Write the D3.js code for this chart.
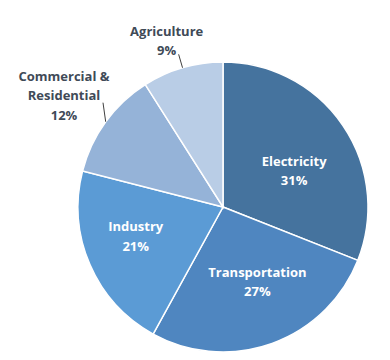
<!DOCTYPE html>
<html><head><meta charset="utf-8">
<script src="https://cdn.jsdelivr.net/npm/d3@7"></script>
<style>body{margin:0;background:#fff}</style>
</head><body>
<svg id="c" width="390" height="360"></svg>
<script>
const categories = ["Electricity", "Transportation", "Industry", "Commercial & Residential", "Agriculture"];
const values = [31, 27, 21, 12, 9];
const labelLines = [["Electricity"], ["Transportation"], ["Industry"], ["Commercial &", "Residential"], ["Agriculture"]];
const colors = ["#45739e", "#4f86c0", "#5b9bd5", "#95b3d8", "#b9cde6"];

// layout (not data)
const cx = 223, cy = 207, R = 145;
const inside = [true, true, true, false, false];
const labelPos = [ // [radius, angle offset deg] for inside; [dx, dy] offsets from leader end for outside
  [80, 7], [82, -5], [92, 5], [-39, 17], [-12, 1]
];
const leaderTilt = [0, 0, 0, 5, 0]; // degrees

const svg = d3.select("#c");
const g = svg.append("g").attr("transform", `translate(${cx},${cy})`);
const pie = d3.pie().sort(null).value(d => d)(values);
const arc = d3.arc().innerRadius(0).outerRadius(R);

g.selectAll("path").data(pie).join("path")
  .attr("d", arc).attr("fill", (d, i) => colors[i])
  .attr("stroke", "#fff").attr("stroke-width", 1.5);

const font = "'Open Sans', sans-serif";
const fs = 13;
const lh = 19.5;

pie.forEach((d, i) => {
  const mid = (d.startAngle + d.endAngle) / 2;
  const lines = labelLines[i].concat([values[i] + "%"]);
  let x, yLast, color;
  if (inside[i]) {
    const a = mid + labelPos[i][1] * Math.PI / 180;
    const r = labelPos[i][0];
    x = r * Math.sin(a);
    const yc = -r * Math.cos(a);
    yLast = yc + (lines.length - 1) * lh / 2 + 5;
    color = "#fff";
  } else {
    const a2 = mid + leaderTilt[i] * Math.PI / 180;
    const p1 = [R * Math.sin(mid), -R * Math.cos(mid)];
    const p2 = [(R + 14) * Math.sin(a2), -(R + 14) * Math.cos(a2)];
    g.append("line").attr("x1", p1[0]).attr("y1", p1[1]).attr("x2", p2[0]).attr("y2", p2[1])
      .attr("stroke", "#404040").attr("stroke-width", 1);
    x = p2[0] + labelPos[i][0];
    yLast = p2[1] + labelPos[i][1];
    color = "#404a57";
  }
  const t = g.append("text").attr("text-anchor", "middle")
    .attr("font-family", font).attr("font-size", fs).attr("font-weight", 700).attr("fill", color);
  lines.forEach((s, k) => {
    t.append("tspan").attr("x", x).attr("y", yLast - (lines.length - 1 - k) * lh).text(s);
  });
});
</script>
</body></html>
